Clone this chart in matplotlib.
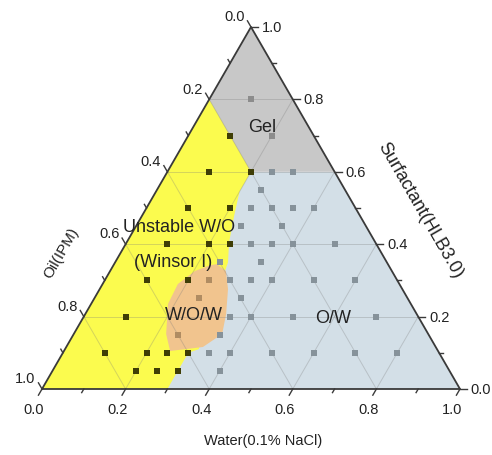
import math

import matplotlib
matplotlib.use("Agg")
import matplotlib.pyplot as plt
from matplotlib.patches import Polygon

# Sample compositions as (water, surfactant) fractions; oil = 1 - water - surfactant
gel_samples = [(0.1, 0.8), (0.2, 0.7)]
wo_samples = [
    (0.1, 0.7), (0.1, 0.6), (0.2, 0.6), (0.1, 0.5), (0.2, 0.5),
    (0.1, 0.4), (0.2, 0.4), (0.25, 0.4), (0.1, 0.3), (0.2, 0.3),
    (0.1, 0.2), (0.1, 0.1), (0.2, 0.1), (0.25, 0.1), (0.3, 0.1),
    (0.2, 0.05), (0.25, 0.05), (0.3, 0.05),
]
wow_samples = [(0.25, 0.3), (0.25, 0.25), (0.25, 0.15)]
ow_samples = [
    (0.25, 0.6), (0.3, 0.6), (0.25, 0.55),
    (0.25, 0.5), (0.3, 0.5), (0.35, 0.5), (0.4, 0.5),
    (0.25, 0.45), (0.35, 0.45),
    (0.3, 0.4), (0.35, 0.4), (0.4, 0.4), (0.5, 0.4),
    (0.25, 0.35), (0.35, 0.35),
    (0.3, 0.3), (0.35, 0.3), (0.4, 0.3), (0.5, 0.3), (0.6, 0.3),
    (0.35, 0.25),
    (0.35, 0.2), (0.4, 0.2), (0.5, 0.2), (0.7, 0.2),
    (0.35, 0.15),
    (0.35, 0.1), (0.4, 0.1), (0.5, 0.1), (0.6, 0.1), (0.7, 0.1), (0.8, 0.1),
    (0.4, 0.05),
]

# Phase boundaries, (water, surfactant)
gel_lower_s = 0.6
wo_boundary = [
    (0.0, 0.8), (0.0, 0.0), (0.30, 0.0), (0.30, 0.05), (0.30, 0.10),
    (0.32, 0.11), (0.29, 0.25), (0.27, 0.35), (0.245, 0.405),
    (0.22, 0.48), (0.20, 0.545), (0.20, 0.60),
]
wow_boundary = [
    (0.246, 0.345), (0.277, 0.326), (0.307, 0.276), (0.337, 0.207),
    (0.355, 0.152), (0.327, 0.116), (0.254, 0.105), (0.221, 0.152),
    (0.184, 0.235), (0.180, 0.290), (0.203, 0.326), (0.231, 0.342),
]

major = [0.0, 0.2, 0.4, 0.6, 0.8, 1.0]
minor = [0.1, 0.3, 0.5, 0.7, 0.9]

H = math.sqrt(3) / 2


def tern(w, s):
    return w + s / 2, s * H


def poly(points):
    return [tern(w, s) for w, s in points]


fig = plt.figure(figsize=(4.92, 4.56), dpi=100)
ax = fig.add_axes([0, 0, 1, 1])
ax.set_xlim(-0.1005, 1.0766)
ax.set_ylim(-0.1579, 0.933)
ax.axis("off")

font = "Liberation Sans"
txt = "#222222"

# phase areas
ax.add_patch(Polygon(poly([(0, 0), (1, 0), (1 - gel_lower_s, gel_lower_s), (0, gel_lower_s)]),
                     closed=True, facecolor="#d3dfe7", edgecolor="none", zorder=1))
ax.add_patch(Polygon(poly([(0, gel_lower_s), (1 - gel_lower_s, gel_lower_s), (0, 1)]),
                     closed=True, facecolor="#c8c8c8", edgecolor="none", zorder=1))
ax.add_patch(Polygon(poly(wo_boundary), closed=True, facecolor="#fbfb4e",
                     edgecolor="none", zorder=2))
ax.add_patch(Polygon(poly(wow_boundary), closed=True, facecolor="#f1c48e",
                     edgecolor="none", zorder=3))

# grid
for v in [0.2, 0.4, 0.6, 0.8]:
    for a, b in [((0, v), (1 - v, v)), ((v, 0), (v, 1 - v)), ((1 - v, 0), (0, 1 - v))]:
        p, q = tern(*a), tern(*b)
        ax.plot([p[0], q[0]], [p[1], q[1]], color="#7a7a7a", alpha=0.3, lw=0.7, zorder=4)

# samples
for pts, col in [(gel_samples, "#8c8c8c"), (wo_samples, "#3f3e06"),
                 (wow_samples, "#b08c62"), (ow_samples, "#86929a")]:
    xy = [tern(w, s) for w, s in pts]
    ax.plot([p[0] for p in xy], [p[1] for p in xy], linestyle="none", marker="s",
            markersize=4.5, color=col, markeredgewidth=0, zorder=5)

# frame
frame = poly([(0, 0), (1, 0), (0, 1), (0, 0)])
ax.plot([p[0] for p in frame], [p[1] for p in frame], color="#3a3a3a", lw=1.3, zorder=6)

# ticks
big, small = 0.017, 0.010
for vals, L in [(major, big), (minor, small)]:
    for v in vals:
        # water, bottom edge, ticks point down-left
        x0, y0 = tern(v, 0)
        ax.plot([x0, x0 - 0.5 * L], [y0, y0 - H * L], color="#3a3a3a", lw=1.0, zorder=6)
        # surfactant, right edge, ticks point right
        x0, y0 = tern(1 - v, v)
        ax.plot([x0, x0 + L], [y0, y0], color="#3a3a3a", lw=1.0, zorder=6)
        # oil, left edge, ticks point up-left
        x0, y0 = tern(0, 1 - v)
        ax.plot([x0, x0 - 0.5 * L], [y0, y0 + H * L], color="#3a3a3a", lw=1.0, zorder=6)

for v in major:
    lab = f"{v:.1f}"
    x0, y0 = tern(v, 0)
    ax.text(x0 - 0.019, y0 - 0.030, lab, ha="center", va="top", fontsize=10.5,
            family=font, color=txt)
    x0, y0 = tern(1 - v, v)
    ax.text(x0 + 0.026, y0, lab, ha="left", va="center", fontsize=10.5,
            family=font, color=txt)
    x0, y0 = tern(0, 1 - v)
    ax.text(x0 - 0.015, y0 + 0.026, lab, ha="right", va="center", fontsize=10.5,
            family=font, color=txt)

# axis titles
ax.text(0.529, -0.122, "Water(0.1% NaCl)", ha="center", va="center",
        fontsize=10.5, family=font, color=txt)
ax.text(0.045, 0.328, "Oil(IPM)", ha="center", va="center", rotation=60,
        fontsize=11, family=font, color=txt)
ax.text(0.904, 0.430, "Surfactant(HLB3.0)", ha="center", va="center", rotation=-60,
        fontsize=13, family=font, color=txt)

# phase labels
for label, (x, y) in [("Gel", (0.526, 0.629)), ("Unstable W/O", (0.328, 0.388)),
                      ("(Winsor I)", (0.313, 0.304)), ("W/O/W", (0.364, 0.179)),
                      ("O/W", (0.696, 0.172))]:
    ax.text(x, y, label, ha="center", va="center", fontsize=13, family=font,
            color=txt, zorder=7)

fig.savefig("out.png", dpi=100)
